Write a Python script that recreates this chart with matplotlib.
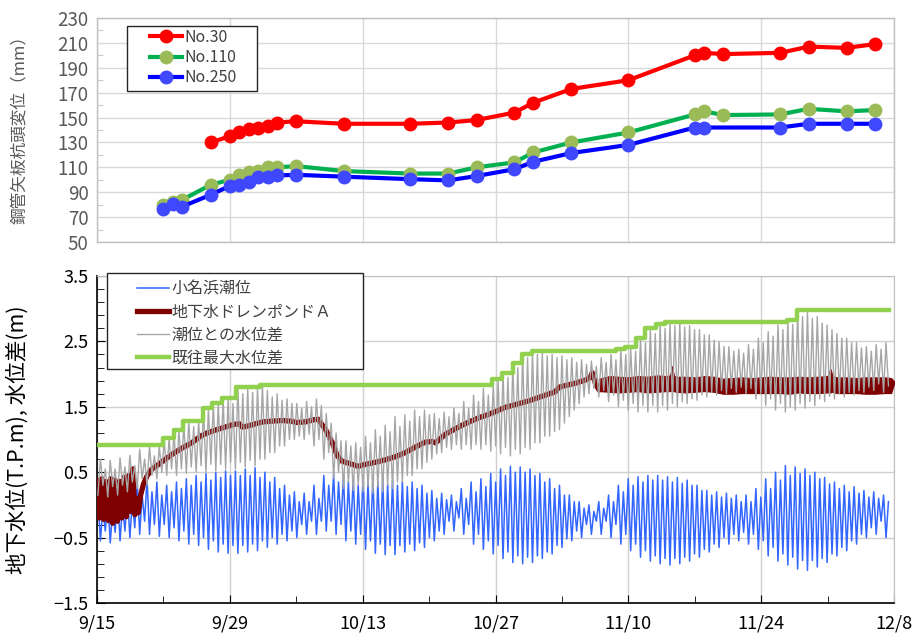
import numpy as np
import matplotlib
matplotlib.use("Agg")
import matplotlib.pyplot as plt
from matplotlib.ticker import FixedLocator, NullFormatter
from matplotlib.lines import Line2D
from matplotlib.patches import Rectangle

plt.rcParams['font.family'] = ['Noto Sans CJK JP', 'DejaVu Sans']
plt.rcParams['axes.unicode_minus'] = True

# ---------------- pile-head displacement survey (x: days after 9/15, mm) ----------------
days_no30 = [12, 14, 15, 16, 17, 18, 19, 21, 26, 33, 37, 40, 44, 46, 50, 56, 63, 64, 66, 72, 75, 79, 82]
disp_no30 = [130, 135, 138, 141, 142, 143, 146, 147, 145, 145, 146, 148, 154, 162, 173, 180, 200, 202, 201, 202, 207, 206, 209]

days_no110 = [7, 8, 9, 12, 14, 15, 16, 17, 18, 19, 21, 26, 33, 37, 40, 44, 46, 50, 56, 63, 64, 66, 72, 75, 79, 82]
disp_no110 = [80, 82, 84, 96, 100, 104, 106, 107, 110, 110, 111, 107, 105, 105, 110, 114, 122, 130, 138, 152.5, 155, 152, 152.5, 157, 155, 156]

days_no250 = [7, 8, 9, 12, 14, 15, 16, 17, 18, 19, 21, 26, 33, 37, 40, 44, 46, 50, 56, 63, 64, 72, 75, 79, 82]
disp_no250 = [76.5, 80.5, 78.5, 88, 95, 96, 98.5, 102, 102.5, 103.5, 104, 102.5, 100.5, 99.5, 103, 108.5, 114.5, 121.5, 128, 142, 142, 142, 145, 145, 145]

date_ticks = [0, 14, 28, 42, 56, 70, 84]
date_labels = ['9/15', '9/29', '10/13', '10/27', '11/10', '11/24', '12/8']

# ---------------- Onahama tide, extremes per tidal day ----------------
# each row: [higher high, lower low, lower high, higher low]  (T.P. m)
tide_ext = [
    [0.12, -0.55, -0.05, -0.40], [0.10, -0.58, -0.08, -0.42], [0.15, -0.55, 0.00, -0.40],
    [0.20, -0.50, 0.05, -0.35], [0.35, -0.45, 0.15, -0.25], [0.40, -0.45, 0.20, -0.30],
    [0.35, -0.48, 0.15, -0.30], [0.30, -0.50, 0.20, -0.35], [0.35, -0.55, 0.25, -0.40],
    [0.40, -0.60, 0.30, -0.45], [0.45, -0.62, 0.35, -0.50], [0.48, -0.68, 0.38, -0.55],
    [0.50, -0.72, 0.42, -0.60], [0.52, -0.74, 0.45, -0.62], [0.52, -0.74, 0.45, -0.62],
    [0.55, -0.72, 0.45, -0.60], [0.57, -0.70, 0.42, -0.55], [0.50, -0.65, 0.35, -0.50],
    [0.42, -0.60, 0.25, -0.45], [0.30, -0.55, 0.15, -0.40], [0.20, -0.50, 0.05, -0.30],
    [0.18, -0.45, 0.05, -0.25], [0.30, -0.45, 0.10, -0.25], [0.45, -0.40, 0.30, -0.25],
    [0.48, -0.45, 0.35, -0.30], [0.45, -0.55, 0.35, -0.40], [0.42, -0.60, 0.30, -0.45],
    [0.45, -0.68, 0.35, -0.55], [0.42, -0.74, 0.35, -0.60], [0.40, -0.76, 0.32, -0.62],
    [0.38, -0.76, 0.30, -0.62], [0.36, -0.72, 0.28, -0.60], [0.35, -0.70, 0.25, -0.58],
    [0.30, -0.65, 0.18, -0.50], [0.22, -0.55, 0.10, -0.40], [0.18, -0.45, 0.08, -0.25],
    [0.15, -0.40, 0.05, -0.20], [0.25, -0.45, 0.10, -0.30], [0.35, -0.60, 0.20, -0.45],
    [0.40, -0.68, 0.28, -0.55], [0.48, -0.75, 0.35, -0.62], [0.55, -0.82, 0.45, -0.72],
    [0.59, -0.88, 0.50, -0.78], [0.58, -0.90, 0.50, -0.80], [0.55, -0.88, 0.45, -0.78],
    [0.48, -0.82, 0.35, -0.72], [0.40, -0.75, 0.25, -0.62], [0.30, -0.65, 0.15, -0.52],
    [0.15, -0.55, 0.05, -0.40], [0.05, -0.50, -0.05, -0.30], [0.00, -0.45, -0.10, -0.25],
    [0.05, -0.45, -0.05, -0.25], [0.15, -0.50, 0.05, -0.30], [0.30, -0.60, 0.20, -0.45],
    [0.40, -0.70, 0.30, -0.60], [0.43, -0.80, 0.35, -0.70], [0.45, -0.86, 0.38, -0.78],
    [0.45, -0.90, 0.38, -0.82], [0.43, -0.92, 0.35, -0.82], [0.42, -0.90, 0.33, -0.80],
    [0.38, -0.86, 0.30, -0.75], [0.30, -0.80, 0.22, -0.68], [0.22, -0.72, 0.15, -0.60],
    [0.20, -0.65, 0.12, -0.50], [0.18, -0.60, 0.10, -0.45], [0.15, -0.55, 0.05, -0.42],
    [0.15, -0.60, 0.05, -0.45], [0.25, -0.68, 0.12, -0.55], [0.40, -0.78, 0.25, -0.65],
    [0.50, -0.86, 0.38, -0.75], [0.60, -0.92, 0.45, -0.80], [0.58, -0.98, 0.48, -0.85],
    [0.55, -1.00, 0.45, -0.85], [0.50, -0.95, 0.40, -0.82], [0.42, -0.88, 0.32, -0.75],
    [0.35, -0.78, 0.25, -0.65], [0.30, -0.70, 0.20, -0.55], [0.28, -0.60, 0.18, -0.45],
    [0.22, -0.50, 0.12, -0.35], [0.20, -0.45, 0.10, -0.25], [0.15, -0.50, 0.05, -0.25],
]

# head difference (drain level minus tide) at the same instants (m)
diff_ext = [
    [0.15, 0.70, 0.30, 0.55], [0.12, 0.68, 0.28, 0.55], [0.15, 0.72, 0.30, 0.58],
    [0.20, 0.76, 0.35, 0.60], [0.25, 0.85, 0.40, 0.70], [0.30, 0.90, 0.45, 0.75],
    [0.40, 0.90, 0.50, 1.00], [0.45, 1.02, 0.55, 1.10], [0.45, 1.14, 0.55, 1.25],
    [0.48, 1.28, 0.58, 1.20], [0.50, 1.29, 0.60, 1.46], [0.50, 1.47, 0.62, 1.55],
    [0.52, 1.55, 0.62, 1.62], [0.55, 1.62, 0.65, 1.55], [0.55, 1.80, 0.65, 1.70],
    [0.58, 1.78, 0.68, 1.72], [0.60, 1.80, 0.70, 1.84], [0.70, 1.75, 0.80, 1.65],
    [0.80, 1.70, 0.90, 1.60], [0.90, 1.62, 1.00, 1.55], [1.00, 1.55, 1.05, 1.48],
    [1.00, 1.58, 1.08, 1.50], [0.90, 1.62, 1.00, 1.52], [0.70, 1.40, 0.80, 1.25],
    [0.40, 1.10, 0.50, 0.98], [0.25, 0.98, 0.35, 0.90], [0.22, 0.95, 0.30, 0.88],
    [0.20, 1.05, 0.28, 0.95], [0.18, 1.15, 0.28, 1.05], [0.20, 1.22, 0.30, 1.12],
    [0.25, 1.35, 0.35, 1.20], [0.35, 1.38, 0.45, 1.28], [0.45, 1.45, 0.55, 1.35],
    [0.55, 1.45, 0.65, 1.38], [0.70, 1.40, 0.78, 1.32], [0.80, 1.42, 0.88, 1.35],
    [0.85, 1.48, 0.92, 1.40], [0.85, 1.58, 0.92, 1.48], [0.85, 1.68, 0.92, 1.58],
    [0.85, 1.78, 0.92, 1.68], [0.82, 1.84, 0.90, 1.90], [0.78, 2.00, 0.88, 1.95],
    [0.75, 2.16, 0.85, 2.10], [0.78, 2.30, 0.88, 2.25], [0.85, 2.34, 0.95, 2.30],
    [0.95, 2.33, 1.05, 2.28], [1.05, 2.30, 1.12, 2.25], [1.15, 2.28, 1.25, 2.22],
    [1.35, 2.25, 1.45, 2.18], [1.55, 2.22, 1.65, 2.15], [1.70, 2.20, 1.78, 2.12],
    [1.65, 2.25, 1.75, 2.18], [1.58, 2.30, 1.68, 2.22], [1.50, 2.37, 1.60, 2.30],
    [1.45, 2.40, 1.55, 2.35], [1.42, 2.54, 1.52, 2.48], [1.42, 2.69, 1.52, 2.62],
    [1.42, 2.76, 1.52, 2.70], [1.45, 2.79, 1.55, 2.74], [1.50, 2.78, 1.58, 2.72],
    [1.55, 2.74, 1.62, 2.68], [1.60, 2.68, 1.68, 2.60], [1.65, 2.60, 1.72, 2.52],
    [1.68, 2.50, 1.75, 2.42], [1.70, 2.42, 1.78, 2.35], [1.72, 2.38, 1.80, 2.32],
    [1.70, 2.45, 1.78, 2.38], [1.62, 2.55, 1.70, 2.48], [1.52, 2.65, 1.62, 2.58],
    [1.45, 2.75, 1.55, 2.68], [1.42, 2.82, 1.50, 2.76], [1.45, 2.97, 1.55, 2.88],
    [1.48, 2.95, 1.58, 2.85], [1.52, 2.88, 1.62, 2.78], [1.58, 2.75, 1.66, 2.68],
    [1.62, 2.62, 1.70, 2.55], [1.65, 2.55, 1.72, 2.48], [1.68, 2.48, 1.75, 2.40],
    [1.72, 2.42, 1.80, 2.35], [1.75, 2.45, 1.85, 2.38], [1.72, 2.48, 1.82, 2.40],
]

# drain pond A water level (days after 9/15, T.P. m)
drain_days = [0.00, 0.05, 0.25, 0.50, 0.70, 0.95, 1.20, 1.45, 1.65, 1.90, 2.15, 2.40, 2.60, 2.85,
              3.10, 3.35, 3.55, 3.75, 4.00, 4.20, 4.35, 4.6, 4.9, 5.3, 5.8, 6.5, 7.4, 8.2, 9.1,
              10.0, 10.9, 11.6, 12.6, 13.5, 14.4, 15.0, 15.3, 16.0, 16.7, 17.5, 18.4, 19.5, 20.5,
              21.0, 22.0, 22.8, 23.3, 24.1, 24.8, 25.3, 25.8, 26.9, 27.5, 28.0, 29.3, 30.4, 31.5,
              32.5, 33.5, 34.6, 35.3, 35.7, 36.7, 37.6, 38.5, 39.4, 40.2, 41.0, 41.9, 43.0, 44.0,
              45.5, 46.5, 47.5, 48.3, 48.7, 49.5, 50.4, 51.5, 52.0, 52.2, 52.5, 52.9, 53.2]
drain_level = [-0.15, 0.38, -0.20, 0.40, -0.22, 0.36, -0.24, 0.40, -0.28, 0.38, -0.25, 0.36, -0.20, 0.42,
               -0.18, 0.45, -0.10, 0.55, -0.15, 0.10, -0.12, 0.15, 0.32, 0.45, 0.55, 0.62, 0.72, 0.80, 0.88,
               0.95, 1.05, 1.10, 1.15, 1.19, 1.23, 1.24, 1.19, 1.21, 1.24, 1.27, 1.28, 1.29, 1.28,
               1.26, 1.27, 1.30, 1.31, 1.15, 0.95, 0.76, 0.67, 0.62, 0.59, 0.61, 0.65, 0.69, 0.74,
               0.80, 0.88, 0.96, 0.97, 0.95, 1.08, 1.15, 1.22, 1.28, 1.33, 1.37, 1.42, 1.49, 1.53,
               1.59, 1.64, 1.69, 1.73, 1.80, 1.83, 1.86, 1.91, 1.95, 2.02, 1.87, 1.76, 1.85]

# pumping period: range of the drain level per day
band_days = [52.9, 54, 55, 56, 57, 58, 59, 60, 60.4, 60.6, 60.8, 61, 62, 63, 64, 65, 66, 67, 68, 69, 70,
             71, 72, 73, 74, 75, 76, 77, 77.3, 77.5, 77.7, 78, 79, 80, 81, 82, 83, 83.7, 84]
band_low = [1.74, 1.73, 1.72, 1.73, 1.74, 1.72, 1.73, 1.74, 1.74, 1.75, 1.74, 1.73, 1.72, 1.73, 1.74, 1.73,
            1.70, 1.70, 1.71, 1.71, 1.71, 1.71, 1.71, 1.70, 1.72, 1.71, 1.71, 1.72, 1.72, 1.73, 1.72, 1.71,
            1.71, 1.71, 1.70, 1.70, 1.71, 1.71, 1.85]
band_high = [1.93, 1.97, 1.96, 1.95, 1.97, 1.96, 1.98, 1.97, 1.98, 2.12, 1.98, 1.96, 1.96, 1.95, 1.97, 1.96,
             1.93, 1.94, 1.95, 1.94, 1.95, 1.96, 1.95, 1.95, 1.96, 1.95, 1.96, 1.97, 2.08, 1.98, 1.96, 1.95,
             1.95, 1.94, 1.95, 1.95, 1.95, 1.94, 1.89]

# largest head difference recorded so far (step changes)
max_days = [0, 6.96, 8.08, 9.07, 11.17, 12.12, 13.18, 14.69, 17.2, 41.6, 42.7, 43.8, 44.8, 45.8,
            54.65, 55.7, 56.8, 57.8, 58.9, 59.9, 72.75, 73.75, 83.5]
max_diff = [0.92, 1.02, 1.15, 1.29, 1.48, 1.56, 1.63, 1.81, 1.84, 1.92, 2.01, 2.17, 2.31, 2.35,
            2.38, 2.41, 2.55, 2.70, 2.77, 2.80, 2.83, 2.98, 2.98]

# ---------------- time base of the tidal extremes ----------------
tidal_day = 24.84 / 24.0
tide_arr = np.array(tide_ext)
diff_arr = np.array(diff_ext)
k_idx, j_idx = np.meshgrid(np.arange(tide_arr.shape[0]), np.arange(4), indexing='ij')
ext_t = (k_idx * tidal_day + 0.1 + j_idx * tidal_day / 4).ravel()
keep = ext_t <= 83.45
ext_t = ext_t[keep]
tide_series = tide_arr.ravel()[keep]
diff_series = diff_arr.ravel()[keep]

# ---------------- figure ----------------
W, H = 915, 635
fig = plt.figure(figsize=(W / 100, H / 100), dpi=100)
ax_top = fig.add_axes([97 / W, 1 - 242 / H, 797 / W, 224 / H])
ax_bot = fig.add_axes([97 / W, 1 - 603 / H, 797 / W, 327 / H])

grid_c = '#d9d9d9'
label_c = '#595959'


def px_box(x0, y0, x1, y1):
    """Legend frame given in figure pixels (top-left origin)."""
    r = Rectangle((x0 / W, 1 - y1 / H), (x1 - x0) / W, (y1 - y0) / H, transform=fig.transFigure,
                  facecolor='white', edgecolor='#262626', lw=1.0, zorder=20)
    fig.patches.append(r)


# --- upper panel ---
ax_top.plot(days_no30, disp_no30, color='#ff0000', lw=3.0, marker='o', ms=9,
            mfc='#ff0000', mec='#ff0000', label='No.30', zorder=3)
ax_top.plot(days_no110, disp_no110, color='#00b050', lw=3.0, marker='o', ms=9,
            mfc='#9bbb59', mec='#9bbb59', label='No.110', zorder=4)
ax_top.plot(days_no250, disp_no250, color='#0000ff', lw=3.0, marker='o', ms=9,
            mfc='#3f48ff', mec='#3f48ff', label='No.250', zorder=5)
ax_top.set_xlim(0, 84)
ax_top.set_ylim(50, 230)
ax_top.yaxis.set_major_locator(FixedLocator(np.arange(50, 231, 20)))
ax_top.yaxis.set_minor_locator(FixedLocator(np.arange(60, 230, 20)))
ax_top.xaxis.set_major_locator(FixedLocator(date_ticks))
ax_top.xaxis.set_major_formatter(NullFormatter())
ax_top.grid(True, which='major', color=grid_c, lw=1.0)
ax_top.tick_params(axis='x', length=0)
ax_top.tick_params(axis='y', which='major', length=0, labelsize=13.5, labelcolor=label_c, pad=6)
ax_top.tick_params(axis='y', which='minor', length=4, direction='in', color='#bfbfbf')
for s in ax_top.spines.values():
    s.set_color('#bfbfbf')
    s.set_linewidth(1.0)
ax_top.set_axisbelow(True)

px_box(127, 26, 257, 91)
leg1 = fig.legend(*ax_top.get_legend_handles_labels(), loc='upper left',
                  bbox_to_anchor=(150 / W, 1 - 29 / H), frameon=False, fontsize=11.5,
                  handlelength=2.0, handletextpad=0.15, borderpad=0, labelspacing=0.2,
                  borderaxespad=0)
leg1.set_zorder(21)
for t in leg1.get_texts():
    t.set_color('#404040')
fig.text(20 / W, 1 - 125 / H, '鋼管矢板杭頭変位（mm）', rotation=90, ha='center', va='center',
         fontsize=12, color=label_c)

# --- lower panel ---
ax_bot.plot(ext_t, tide_series, color='#3366ff', lw=1.1, zorder=2)
ax_bot.plot(drain_days, drain_level, color='#7f0000', lw=3.8, zorder=3, solid_joinstyle='round')
ax_bot.fill_between(band_days, band_low, band_high, color='#7f0000', lw=0.8, edgecolor='#7f0000', zorder=3)
ax_bot.plot(ext_t, diff_series, color='#a6a6a6', lw=1.0, zorder=4)
ax_bot.plot(max_days, max_diff, color='#92d050', lw=3.2, drawstyle='steps-post', zorder=5)

ax_bot.set_xlim(0, 84)
ax_bot.set_ylim(-1.5, 3.5)
ax_bot.xaxis.set_major_locator(FixedLocator(date_ticks))
ax_bot.xaxis.set_minor_locator(FixedLocator(np.arange(7, 84, 14)))
ax_bot.set_xticklabels(date_labels)
ax_bot.yaxis.set_major_locator(FixedLocator(np.arange(-1.5, 3.51, 1.0)))
ax_bot.yaxis.set_minor_locator(FixedLocator(np.arange(-1.5, 3.51, 0.2)))
ax_bot.yaxis.set_major_formatter(plt.FuncFormatter(lambda v, p: f'{v:.1f}'.replace('-', '\u2212')))
ax_bot.grid(True, which='major', color='#d0d0d0', lw=1.0)
ax_bot.set_axisbelow(True)
ax_bot.tick_params(axis='both', which='both', direction='in', color='black', labelsize=13)
ax_bot.tick_params(axis='both', which='major', length=6)
ax_bot.tick_params(axis='both', which='minor', length=5)
ax_bot.tick_params(axis='x', pad=8)
ax_bot.tick_params(axis='y', pad=6)
ax_bot.spines['left'].set_color('black')
ax_bot.spines['bottom'].set_color('black')
ax_bot.spines['left'].set_linewidth(1.2)
ax_bot.spines['bottom'].set_linewidth(1.2)
ax_bot.spines['top'].set_color('#bfbfbf')
ax_bot.spines['right'].set_color('#bfbfbf')

handles = [
    Line2D([], [], color='#3366ff', lw=1.1),
    Line2D([], [], color='#7f0000', lw=3.8),
    Line2D([], [], color='#a6a6a6', lw=1.0),
    Line2D([], [], color='#92d050', lw=3.2),
]
names = ['小名浜潮位', '地下水ドレンポンドＡ', '潮位との水位差', '既往最大水位差']
px_box(107, 273, 363, 369)
leg2 = fig.legend(handles, names, loc='upper left', bbox_to_anchor=(137 / W, 1 - 281 / H),
                  frameon=False, fontsize=11.5, handlelength=2.0, handletextpad=0.15,
                  borderpad=0, labelspacing=0.36, borderaxespad=0)
leg2.set_zorder(21)
for t in leg2.get_texts():
    t.set_color('#404040')

fig.text(18 / W, 1 - 440 / H, '地下水位(T.P.m), 水位差(m)', rotation=90, ha='center', va='center',
         fontsize=15.5, color='black')

fig.savefig('out.png', dpi=100)
